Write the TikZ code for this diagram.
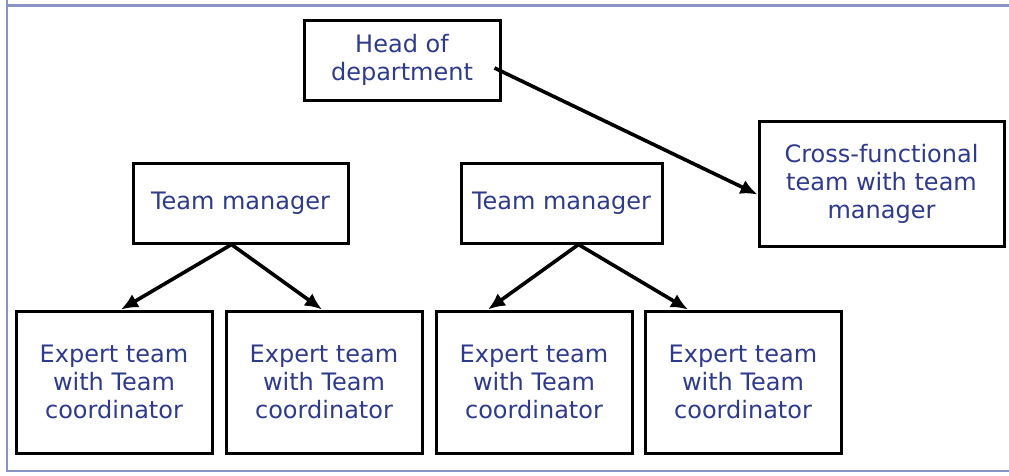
\documentclass[tikz,border=0pt]{standalone}
\usepackage{fontspec}
\setmainfont{DejaVu Sans}
\usetikzlibrary{arrows.meta}
\definecolor{txtblue}{RGB}{46,58,140}
\definecolor{frameblue}{RGB}{138,147,200}

\begin{document}
\begin{tikzpicture}
[x=1pt,y=-1pt,
 box/.style={draw,line width=3pt,inner sep=0pt,align=center,text=txtblue,
   font=\fontsize{24}{28}\selectfont},
 arrow/.style={-{Latex[length=17pt,width=15pt]},line width=3.6pt}]
\useasboundingbox (0,0) rectangle (1009,475);
% frame
\draw[frameblue,line width=2.5pt] (7,0) -- (7,471) -- (1009,471);
\draw[frameblue,line width=2.5pt] (7,5.5) -- (1009,5.5);
% boxes
\node[box,minimum width=196pt,minimum height=80pt] (head) at (402,60) {Head of\\department};
\node[box,minimum width=245pt,minimum height=125pt] (cross) at (881.5,183.5) {Cross-functional\\team with team\\manager};
\node[box,minimum width=215pt,minimum height=80pt] (tmA) at (240.5,203) {Team manager};
\node[box,minimum width=201pt,minimum height=80pt] (tmB) at (561.5,203) {Team manager};
\node[box,minimum width=196pt,minimum height=142pt] (expA) at (114,382) {Expert team\\with Team\\coordinator};
\node[box,minimum width=196pt,minimum height=142pt] (expB) at (324,382) {Expert team\\with Team\\coordinator};
\node[box,minimum width=196pt,minimum height=142pt] (expC) at (534,382) {Expert team\\with Team\\coordinator};
\node[box,minimum width=196pt,minimum height=142pt] (expD) at (743,382) {Expert team\\with Team\\coordinator};
% arrows
\draw[arrow] ([shift={(-7,8)}]head.east) -- ([yshift=-11]cross.west);
\draw[arrow] ([xshift=-9]tmA.south) -- ([xshift=7]expA.north);
\draw[arrow] ([xshift=-9]tmA.south) -- ([xshift=-2]expB.north);
\draw[arrow] ([xshift=17]tmB.south) -- ([xshift=-46]expC.north);
\draw[arrow] ([xshift=17]tmB.south) -- ([xshift=-55]expD.north);
\end{tikzpicture}
\end{document}
